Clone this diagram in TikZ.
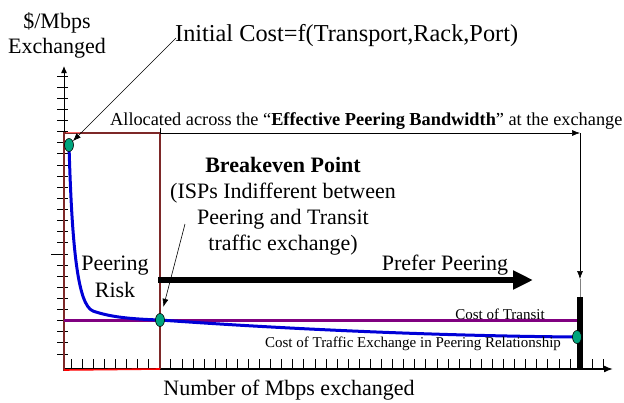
\documentclass[tikz,border=0pt]{standalone}
\usepackage{fontspec}
\setmainfont{Liberation Serif}
\usetikzlibrary{arrows.meta,shapes.geometric}
\definecolor{brownline}{RGB}{125,40,40}
\definecolor{purpleline}{RGB}{128,0,128}
\definecolor{blueline}{RGB}{0,0,215}
\definecolor{dotgreen}{RGB}{0,165,125}
\tikzset{
  dot/.style={ellipse, draw=black, fill=dotgreen, minimum width=9pt, minimum height=13pt, inner sep=0pt, line width=0.6pt},
  lbl/.style={inner sep=0pt, font=\fontsize{22}{26}\selectfont},
  smalllbl/.style={inner sep=0pt, font=\fontsize{15}{18}\selectfont},
  thinarrow/.style={-{Latex[length=8pt,width=6pt]}, line width=0.6pt},
  boxline/.style={draw=brownline, line width=1.6pt},
  tick/.style={line width=0.8pt},
}
\begin{document}
\begin{tikzpicture}[x=1pt,y=-1pt]
\useasboundingbox (0,0) rectangle (624,402);
% coordinates
\coordinate (O) at (64,369);
\coordinate (ytop) at (64,66);
\coordinate (xend) at (613,369);
\coordinate (p1) at (69,145);
\coordinate (p2) at (160,320);
\coordinate (p3) at (577,337);
\coordinate (knee) at (93,311);
% ticks
\foreach \k in {0,...,25} \draw[tick] (57,{76+11.12*\k}) -- (68,{76+11.12*\k});
\draw[tick] (51,{76+11.12*16}) -- (57,{76+11.12*16});
\foreach \k in {0,...,48} \draw[tick] ({71+11.09*\k},359) -- ({71+11.09*\k},369);
% axes
\draw[line width=1pt, -{Latex[length=7pt,width=6pt]}] (O) -- (ytop);
\draw[line width=1.6pt, -{Latex[length=9pt,width=7pt]}] (O) -- (xend);
% box
\coordinate (bl) at (64,371);
\coordinate (tl) at (64,133);
\coordinate (tm) at (160,133);
\coordinate (mtop) at (160,128);
\coordinate (mbot) at (160,369);
\draw[boxline] (bl) -- (tl) -- (tm);
\draw[red!60, line width=1pt] (66,132) -- (80,132);
\draw[line width=0.6pt] (mtop) -- (tm);
\draw[boxline] (tm) -- (mbot);
\draw[red, line width=1.6pt] (64,370) -- (mbot);
% allocation arrows
\coordinate (tr) at (580,133);
\coordinate (rdown) at (580,279);
\coordinate (barTop) at (580,297);
\coordinate (barBot) at (580,369);
\draw[thinarrow] (tm) -- (tr);
\draw[thinarrow] (tr) -- (rdown);
\draw[gray, line width=0.6pt] (rdown) -- (barTop);
\draw[line width=6pt] (barTop) -- (barBot);
% transit line
\coordinate (tl2) at (64,320);
\coordinate (tr2) at (577,320);
\draw[purpleline, line width=3pt] (tl2) -- (tr2);
% cost curve
\draw[blueline, line width=3pt] (p1) .. controls (72,250) and (78,305) .. (knee)
  .. controls (110,317) and (130,319) .. (p2)
  .. controls (300,330) and (450,336) .. (p3);
\node[dot] (e1) at (p1) {};
\node[dot] (e2) at (p2) {};
\node[dot] (e3) at (p3) {};
% prefer peering arrow
\coordinate (pp1) at (158,280);
\coordinate (pp2) at (533,280);
\draw[line width=6pt, -{Triangle[length=20pt,width=18pt]}] (pp1) -- (pp2);
% texts
\node[inner sep=0pt, align=center, font=\fontsize{22}{25}\selectfont] (ylab) at (57,35) {\$/Mbps\\Exchanged};
\node[anchor=west, inner sep=0pt, font=\fontsize{24.3}{28}\selectfont] (init) at (175,36) {Initial Cost=f(Transport,Rack,Port)};
\node[anchor=west, inner sep=0pt, font=\fontsize{18.3}{22}\selectfont] (alloc) at (110,121) {Allocated across the “\textbf{Effective Peering Bandwidth}” at the exchange};
\node[lbl, align=center] (be) at (283,206) {\textbf{Breakeven Point}\\(ISPs Indifferent between\\Peering and Transit\\traffic exchange)};
\node[lbl] (prefer) at (445,265) {Prefer Peering};
\node[inner sep=0pt, align=center, font=\fontsize{22}{27}\selectfont] (risk) at (115,277) {Peering\\Risk};
\node[smalllbl] (cot) at (500,314) {Cost of Transit};
\node[smalllbl] (cote) at (413,344) {Cost of Traffic Exchange in Peering Relationship};
\node[lbl] (xlab) at (289,390) {Number of Mbps exchanged};
% pointer arrows
\coordinate (initfoot) at (176,38);
\coordinate (bstart) at (185,224);
\draw[thinarrow] (initfoot) -- (e1);
\draw[thinarrow, shorten >=7pt] (bstart) -- (e2);
\end{tikzpicture}
\end{document}
